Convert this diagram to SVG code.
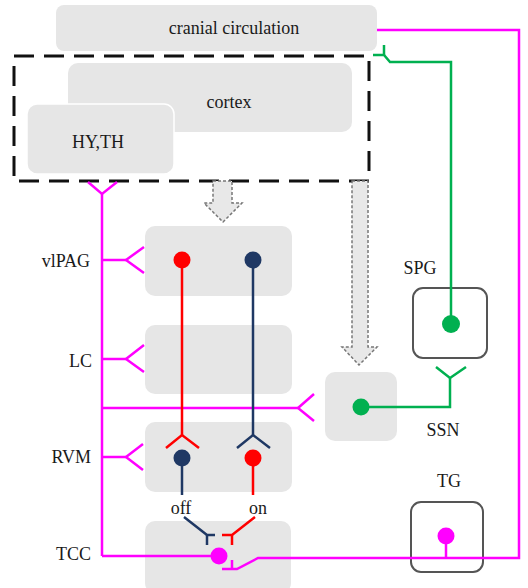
<svg xmlns="http://www.w3.org/2000/svg" width="528" height="588" viewBox="0 0 528 588">
<defs>
<style>
.box{fill:#e6e6e6;}
.frame{fill:#fff;stroke:#555;stroke-width:2;}
.t{font-family:"Liberation Serif","Times New Roman",serif;font-size:18px;fill:#1a1a1a;}
.m{stroke:#ff00ff;stroke-width:2.5;fill:none;}
.r{stroke:#ff0000;stroke-width:2.5;fill:none;}
.n{stroke:#1f3864;stroke-width:2.5;fill:none;}
.g{stroke:#00b050;stroke-width:2.5;fill:none;}
.darr{fill:#e8e8e8;stroke:#777;stroke-width:1.5;stroke-dasharray:3 2;}
</style>
</defs>
<rect width="528" height="588" fill="#fff"/>

<g id="cranial">
<rect class="box" x="56" y="5" width="321" height="46" rx="8"/>
<text class="t" x="234" y="34" text-anchor="middle">cranial circulation</text>
</g>
<g id="cortex">
<rect class="box" x="68" y="63" width="284" height="69" rx="10"/>
<text class="t" x="229" y="108" text-anchor="middle">cortex</text>
</g>
<g id="hyth">
<rect class="box" x="27" y="104" width="147" height="70" rx="10" stroke="#fff" stroke-width="1.5"/>
<text class="t" x="98" y="148" text-anchor="middle">HY,TH</text>
</g>
<g id="dashed-group">
<rect x="14" y="56" width="355" height="125" fill="none" stroke="#111" stroke-width="3" stroke-dasharray="20 10"/>
</g>

<g id="vlPAG">
<rect class="box" x="145" y="226" width="147" height="70" rx="10"/>
<text class="t" x="90" y="267" text-anchor="end">vlPAG</text>
</g>
<g id="LC">
<rect class="box" x="145" y="325" width="147" height="69" rx="10"/>
<text class="t" x="92" y="367" text-anchor="end">LC</text>
</g>
<g id="RVM">
<rect class="box" x="145" y="422" width="147" height="70" rx="10"/>
<text class="t" x="91" y="463" text-anchor="end">RVM</text>
</g>
<g id="TCC">
<rect class="box" x="145" y="521" width="146" height="72" rx="10"/>
<text class="t" x="91" y="560" text-anchor="end">TCC</text>
</g>
<g id="SSN">
<rect class="box" x="325" y="372" width="72" height="69" rx="10"/>
<text class="t" x="443" y="436" text-anchor="middle">SSN</text>
</g>
<g id="SPG">
<rect class="frame" x="413" y="288" width="74" height="70" rx="10"/>
<text class="t" x="420" y="274" text-anchor="middle">SPG</text>
</g>
<g id="TG">
<rect class="frame" x="411" y="502" width="72" height="70" rx="10"/>
<text class="t" x="449" y="487" text-anchor="middle">TG</text>
</g>

<g id="connectors">
<!-- dashed arrows -->
<polygon class="darr" points="213,181 232,181 232,203 242,203 223,222 204,203 213,203"/>
<polygon class="darr" points="352,181 368,181 368,347 377,347 359,365 342,347 352,347"/>

<!-- magenta trunk -->
<polyline class="m" points="88,182 102,194 117,182"/>
<line class="m" x1="102" y1="194" x2="102" y2="556"/>
<polyline class="m" points="102,260 126,260"/>
<polyline class="m" points="144,247 126,260 144,273"/>
<polyline class="m" points="102,359 126,359"/>
<polyline class="m" points="144,345 126,359 144,372"/>
<polyline class="m" points="102,457 126,457"/>
<polyline class="m" points="143,444 126,457 143,470"/>
<polyline class="m" points="102,408 298,408"/>
<polyline class="m" points="314,394 298,408 314,421"/>
<line class="m" x1="102" y1="556" x2="215" y2="556"/>
<circle cx="219" cy="556" r="8.5" fill="#ff00ff"/>

<!-- magenta right loop -->
<polyline class="m" points="377,30 519,30 519,558 258,558 237,569 222,569"/>
<line class="m" x1="232" y1="560" x2="232" y2="569"/>
<circle cx="446" cy="536" r="8.5" fill="#ff00ff"/>
<line class="m" x1="446" y1="536" x2="446" y2="558"/>

<!-- red/navy from vlPAG to RVM -->
<line class="r" x1="182" y1="260" x2="182" y2="435"/>
<polyline class="r" points="166,448 182,435 199,448"/>
<circle cx="182" cy="260" r="8.5" fill="#ff0000"/>
<line class="n" x1="253" y1="260" x2="253" y2="435"/>
<polyline class="n" points="237,448 253,435 270,448"/>
<circle cx="253" cy="260" r="8.5" fill="#1f3864"/>

<!-- RVM off/on -->
<line class="n" x1="182" y1="458" x2="182" y2="495"/>
<circle cx="182" cy="458" r="8.5" fill="#1f3864"/>
<line class="r" x1="253" y1="458" x2="253" y2="495"/>
<circle cx="253" cy="458" r="8.5" fill="#ff0000"/>
<text class="t" x="181" y="514" text-anchor="middle">off</text>
<text class="t" x="258" y="514" text-anchor="middle">on</text>
<polyline class="n" points="184,517 207,535 215,535"/>
<line class="n" x1="207" y1="535" x2="207" y2="545"/>
<polyline class="r" points="255,517 232,535 222,535"/>
<line class="r" x1="232" y1="535" x2="232" y2="545"/>

<!-- green -->
<line class="g" x1="384" y1="45" x2="384" y2="55"/>
<polyline class="g" points="373,55 384,55 390,62 451,62 451,324"/>
<circle cx="451" cy="324" r="9" fill="#00b050"/>
<polyline class="g" points="436,367 450,378 466,367"/>
<polyline class="g" points="450,378 450,407 361,407"/>
<circle cx="361" cy="407" r="8.5" fill="#00b050"/>
</g>
</svg>
